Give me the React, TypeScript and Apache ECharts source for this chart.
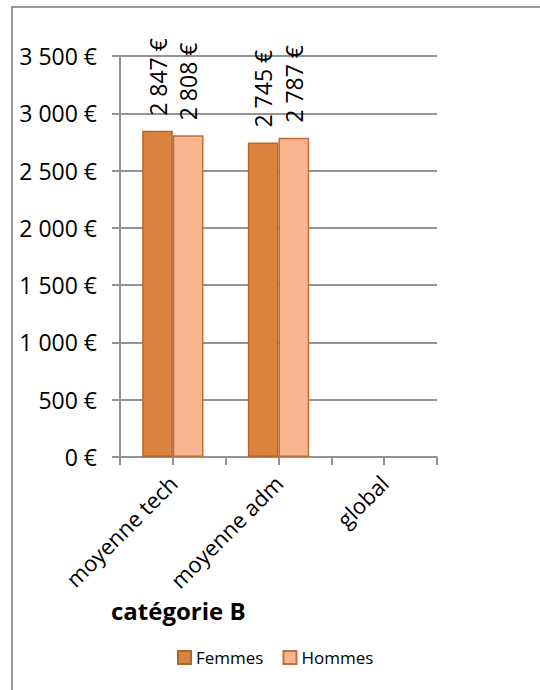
import React, { useEffect, useRef } from "react";
import * as echarts from "echarts";

// Mean salaries, catégorie B
const categories = ["moyenne tech", "moyenne adm", "global"];
const femmes: (number | null)[] = [2847, 2745, null];
const hommes: (number | null)[] = [2808, 2787, null];
const seriesNames = ["Femmes", "Hommes"];
const chartTitle = "catégorie B";
const yMax = 3500;
const yStep = 500;

const FONT = "'Open Sans', Lato, sans-serif";
const GRID_GREY = "#939393";

const euro = (v: number) =>
  `${String(Math.round(v)).replace(/\B(?=(\d{3})+(?!\d))/g, " ")} €`;

export default function App() {
  const ref = useRef<HTMLDivElement>(null);

  useEffect(() => {
    if (!ref.current) return;
    const chart = echarts.init(ref.current, null, { renderer: "svg" });

    const valueLabel = {
      show: true,
      position: "top" as const,
      rotate: 90,
      align: "left" as const,
      verticalAlign: "middle" as const,
      distance: 15,
      fontFamily: FONT,
      fontSize: 23,
      color: "#000",
      formatter: (p: any) => euro(p.value),
    };

    chart.setOption({
      animation: false,
      backgroundColor: "#fff",
      textStyle: { fontFamily: FONT },
      title: {
        text: chartTitle,
        left: 111,
        top: 598,
        padding: 0,
        textStyle: { fontFamily: FONT, fontSize: 24, fontWeight: "bold", color: "#000" },
      },
      legend: {
        data: seriesNames,
        left: 177,
        top: 649,
        padding: 0,
        icon: "rect",
        itemWidth: 13,
        itemHeight: 13,
        itemGap: 19,
        textStyle: { fontFamily: FONT, fontSize: 17, color: "#000" },
      },
      grid: { left: 120, right: 103, top: 56, bottom: 233, containLabel: false },
      xAxis: [
        {
          type: "category",
          data: categories,
          axisLine: { lineStyle: { color: GRID_GREY, width: 2 } },
          axisTick: { show: true, length: 8, lineStyle: { color: GRID_GREY, width: 2 } },
          axisLabel: {
            rotate: 45,
            margin: 22,
            fontFamily: FONT,
            fontSize: 22,
            color: "#000",
          },
        },
        {
          // mid-category tick marks
          type: "category",
          data: categories,
          position: "bottom",
          axisLine: { show: false },
          axisLabel: { show: false },
          axisTick: {
            show: true,
            alignWithLabel: true,
            length: 8,
            lineStyle: { color: GRID_GREY, width: 2 },
          },
        },
      ],
      yAxis: {
        type: "value",
        min: 0,
        max: yMax,
        interval: yStep,
        axisLine: { show: true, lineStyle: { color: GRID_GREY, width: 2 } },
        axisTick: { show: true, length: 8, lineStyle: { color: GRID_GREY, width: 2 } },
        splitLine: { show: true, lineStyle: { color: GRID_GREY, width: 2 } },
        axisLabel: {
          margin: 23,
          fontFamily: FONT,
          fontSize: 23,
          color: "#000",
          formatter: (v: number) => euro(v),
        },
      },
      series: [
        {
          name: seriesNames[0],
          type: "bar",
          data: femmes,
          barGap: "0%",
          barCategoryGap: "42%",
          itemStyle: { color: "#DA843F", borderColor: "#B4662B", borderWidth: 1.5 },
          label: valueLabel,
        },
        {
          name: seriesNames[1],
          type: "bar",
          data: hommes,
          barGap: "0%",
          barCategoryGap: "42%",
          itemStyle: { color: "#F9B590", borderColor: "#C0703A", borderWidth: 1.5 },
          label: valueLabel,
        },
      ],
      graphic: [
        {
          // chart frame
          type: "rect",
          silent: true,
          shape: { x: 12, y: 7, width: 700, height: 900 },
          style: { fill: "none", stroke: "#9a9a9a", lineWidth: 2 },
        },
      ],
    });

    return () => chart.dispose();
  }, []);

  return (
    <div
      ref={ref}
      style={{ position: "fixed", left: 0, top: 0, width: 540, height: 690 }}
    />
  );
}
